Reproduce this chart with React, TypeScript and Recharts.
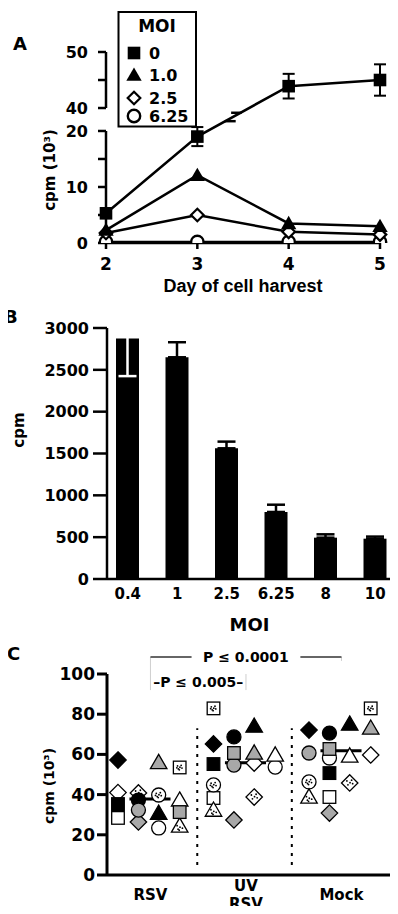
import React from 'react';
import {
  LineChart, Line, XAxis, YAxis, ErrorBar, ReferenceLine, ReferenceArea,
  BarChart, Bar, ScatterChart, Scatter, Label,
} from 'recharts';

const FONT = '"DejaVu Sans", Verdana, sans-serif';
const FONT_ARIAL = '"Liberation Sans", Arial, sans-serif';

/* ---------------- Panel A data ---------------- */
const aDays = [2, 3, 4, 5];
const aMoi0 = [5.3, 19.0, 43.9, 45.0];
const aMoi0Err = [0, 1.7, 2.2, 2.8];
const aMoi1 = [2.3, 12.1, 3.5, 3.0];
const aMoi25 = [1.8, 5.0, 2.0, 1.5];
const aMoi625 = [0.2, 0.2, 0.2, 0.2];
const aYTicks = [0, 5, 10, 15, 20, 40, 45, 50];
const aYTickLabels = ['0', '', '10', '', '20', '40', '', '50'];
const aSeriesNames = ['0', '1.0', '2.5', '6.25'];

/* ---------------- Panel B data ---------------- */
const bMoi = ['0.4', '1', '2.5', '6.25', '8', '10'];
const bCpm = [2875, 2650, 1562, 801, 494, 482];
const bErr = [450, 180, 80, 87, 40, 25];
const bYTicks = [0, 500, 1000, 1500, 2000, 2500, 3000];
const B_TOP = 3000;

/* ---------------- Panel C data ---------------- */
const cGroupLabels = ['RSV', 'UV\nRSV', 'Mock'];
const cYTicks = [0, 20, 40, 60, 80, 100];
// values per donor: [RSV, UV RSV, Mock]
const blackDiamond = [57.2, 65.2, 72.1];
const blackCircle = [37.3, 68.7, 70.6];
const blackSquare = [35.3, 55.2, 50.7];
const blackTriangle = [30.8, 74.1, 75.1];
const grayDiamond = [26.4, 27.4, 30.8];
const grayCircle = [32.3, 54.7, 60.7];
const graySquare = [31.3, 60.7, 62.7];
const grayTriangle = [56.0, 60.7, 73.1];
const whiteDiamond = [41.0, 55.7, 59.7];
const whiteCircle = [23.4, 53.7, 58.2];
const whiteSquare = [28.4, 38.3, 38.8];
const whiteTriangle = [37.3, 59.7, 59.2];
const dottedDiamond = [40.8, 38.8, 45.8];
const dottedCircle = [39.8, 44.8, 46.3];
const dottedSquare = [53.5, 82.9, 82.9];
const dottedTriangle = [24.4, 32.3, 38.8];
const cMedians = [37.8, 55.8, 61.8];

/* ---------------- helpers ---------------- */
type Kind = 'square' | 'triangle' | 'diamond' | 'circle';

const BREAK_LOW = 20;
const BREAK_HIGH = 40;
const BREAK_GAP = 4.1;
const brk = (v: number) => (v >= BREAK_HIGH ? v - BREAK_HIGH + BREAK_LOW + BREAK_GAP : v);

const DOT_OFFSETS = [
  [-3.2, -2.6], [2.2, -3.6], [3.4, 1.0], [-2.0, 2.4], [0.4, -0.4], [-0.6, 4.0], [-4.2, 0.6], [1.6, 3.2],
];

type GlyphProps = { kind: Kind; cx: number; cy: number; r: number; fill: string; stroke: string; sw: number; dotted?: boolean };
function Glyph({ kind, cx, cy, r, fill, stroke, sw, dotted }: GlyphProps) {
  const common = { fill, stroke: sw > 0 ? stroke : 'none', strokeWidth: sw };
  let el: React.ReactNode;
  let dy = 0;
  if (kind === 'circle') el = <circle cx={cx} cy={cy} r={r} {...common} />;
  else if (kind === 'square') el = <rect x={cx - r} y={cy - r} width={2 * r} height={2 * r} {...common} />;
  else if (kind === 'diamond')
    el = <polygon points={`${cx},${cy - r} ${cx + r},${cy} ${cx},${cy + r} ${cx - r},${cy}`} {...common} />;
  else {
    el = (
      <polygon
        points={`${cx},${cy - r * 1.08} ${cx + r * 1.1},${cy + r * 0.82} ${cx - r * 1.1},${cy + r * 0.82}`}
        {...common}
      />
    );
    dy = 1.5;
  }
  const scale = r / 7.5;
  const keep = kind === 'triangle' ? [0, 2, 3, 4, 5] : kind === 'diamond' ? [0, 2, 3, 4, 1] : [0, 1, 2, 3, 4, 5, 6];
  return (
    <g>
      {el}
      {dotted &&
        keep.map((k) => (
          <circle key={k} cx={cx + DOT_OFFSETS[k][0] * scale * 0.8} cy={cy + dy + DOT_OFFSETS[k][1] * scale * 0.7} r={0.9} fill="#000" />
        ))}
    </g>
  );
}

const tickStyle = (size: number) => ({ fill: '#000', fontSize: size, fontWeight: 700, fontFamily: FONT });

/* ---------------- Panel A ---------------- */
const A_GLYPH: Record<Kind, { r: number; fill: string; stroke: string; sw: number }> = {
  square: { r: 6.3, fill: '#000', stroke: '#000', sw: 0 },
  triangle: { r: 7, fill: '#000', stroke: '#000', sw: 0 },
  diamond: { r: 6.3, fill: '#fff', stroke: '#000', sw: 2.2 },
  circle: { r: 6.2, fill: '#fff', stroke: '#000', sw: 2.4 },
};
const A_KINDS: Kind[] = ['square', 'triangle', 'diamond', 'circle'];

const aData = aDays.map((day, i) => ({
  day,
  m0: brk(aMoi0[i]),
  e0: aMoi0Err[i],
  m1: aMoi1[i],
  m25: aMoi25[i],
  m625: aMoi625[i],
}));

const aDot = (kind: Kind) => (p: any) => {
  if (p == null || p.cx == null || p.cy == null) return <g key={`n${kind}${p?.index}`} />;
  return <Glyph key={`${kind}${p.index}`} kind={kind} cx={p.cx} cy={p.cy} {...A_GLYPH[kind]} />;
};

function PanelA() {
  const yTicks = aYTicks.map(brk);
  const top = brk(50);
  const lineProps = { type: 'linear' as const, stroke: '#000', strokeWidth: 2.5, isAnimationActive: false, activeDot: false };
  return (
    <LineChart width={398} height={300} data={aData} margin={{ top: 52, right: 18, bottom: 23, left: 46 }}>
      <XAxis
        type="number" dataKey="day" domain={[2, 5]} ticks={aDays} allowDecimals={false} interval={0}
        axisLine={{ stroke: '#000', strokeWidth: 2.5 }} tickLine={{ stroke: '#000', strokeWidth: 2.5 }}
        tickSize={6} tickMargin={9} height={34} tick={tickStyle(17)}
      >
        <Label value="Day of cell harvest" position="bottom" offset={2}
          style={{ fill: '#000', fontSize: 18, fontWeight: 700, fontFamily: FONT_ARIAL }} />
      </XAxis>
      <YAxis
        type="number" domain={[0, top]} ticks={yTicks} allowDataOverflow width={60} interval={0}
        axisLine={false} tickLine={{ stroke: '#000', strokeWidth: 2.5 }} tickSize={8} tickMargin={10}
        tick={tickStyle(16)} tickFormatter={(_v: any, i: number) => aYTickLabels[i] ?? ''}
      />
      <ReferenceLine segment={[{ x: 2, y: 0 }, { x: 2, y: BREAK_LOW }]} stroke="#000" strokeWidth={2.5} />
      <ReferenceLine segment={[{ x: 2, y: brk(BREAK_HIGH) }, { x: 2, y: top }]} stroke="#000" strokeWidth={2.5} />
      <Line dataKey="m625" name={aSeriesNames[3]} {...lineProps} dot={aDot('circle')} />
      <Line dataKey="m25" name={aSeriesNames[2]} {...lineProps} dot={aDot('diamond')} />
      <Line dataKey="m1" name={aSeriesNames[1]} {...lineProps} dot={aDot('triangle')} />
      <Line dataKey="m0" name={aSeriesNames[0]} {...lineProps} dot={aDot('square')}>
        <ErrorBar dataKey="e0" width={6} stroke="#000" strokeWidth={2} />
      </Line>
      <ReferenceArea x1={3.18} x2={3.7} y1={21.75} y2={23.25} fill="#fff" fillOpacity={1} stroke="none" ifOverflow="hidden" />
      <ReferenceLine segment={[{ x: 3.3, y: 21.75 }, { x: 3.42, y: 21.75 }]} stroke="#000" strokeWidth={2.5} />
      <ReferenceLine segment={[{ x: 3.37, y: 23.25 }, { x: 3.485, y: 23.25 }]} stroke="#000" strokeWidth={2.5} />
    </LineChart>
  );
}

/* ---------------- Panel B ---------------- */
const bData = bMoi.map((moi, i) => ({
  moi,
  cpm: bCpm[i],
  errUp: bCpm[i] + bErr[i] <= B_TOP ? [0, bErr[i]] : undefined,
  errInside: bCpm[i] + bErr[i] > B_TOP ? bErr[i] : undefined,
}));

function PanelB() {
  return (
    <BarChart width={398} height={340} data={bData} margin={{ top: 28, right: 6, bottom: 22, left: 47 }} barSize={23}>
      <XAxis
        dataKey="moi" padding={{ left: -4, right: -8 }} interval={0}
        axisLine={{ stroke: '#000', strokeWidth: 2.5 }} tickLine={false} tickSize={0} tickMargin={9}
        height={39} tick={tickStyle(15)}
      >
        <Label value="MOI" position="bottom" offset={0}
          style={{ fill: '#000', fontSize: 18, fontWeight: 700, fontFamily: FONT }} />
      </XAxis>
      <YAxis
        type="number" domain={[0, B_TOP]} ticks={bYTicks} allowDataOverflow width={60} interval={0}
        axisLine={{ stroke: '#000', strokeWidth: 2.5 }} tickLine={{ stroke: '#000', strokeWidth: 2.5 }}
        tickSize={14} tickMargin={4} tick={tickStyle(16)}
      />
      <Bar dataKey="cpm" fill="#000" isAnimationActive={false}>
        <ErrorBar dataKey="errUp" width={9} stroke="#000" strokeWidth={2.5} />
        <ErrorBar dataKey="errInside" width={9} stroke="#fff" strokeWidth={2.5} />
      </Bar>
    </BarChart>
  );
}

/* ---------------- Panel C ---------------- */
const COL_OFFSET = [-0.34, -0.126, 0.086, 0.306];
const FILLS: Record<string, string> = { black: '#000', gray: '#a8a8a8', white: '#fff', dotted: '#fff' };
type Donor = { name: string; values: number[]; cols: number[]; kind: Kind; tone: string };
const donors: Donor[] = [
  { name: 'whiteDiamond', values: whiteDiamond, cols: [1, 3, 4], kind: 'diamond', tone: 'white' },
  { name: 'whiteCircle', values: whiteCircle, cols: [3, 4, 2], kind: 'circle', tone: 'white' },
  { name: 'whiteSquare', values: whiteSquare, cols: [1, 1, 2], kind: 'square', tone: 'white' },
  { name: 'whiteTriangle', values: whiteTriangle, cols: [4, 4, 3], kind: 'triangle', tone: 'white' },
  { name: 'dottedDiamond', values: dottedDiamond, cols: [2, 3, 3], kind: 'diamond', tone: 'dotted' },
  { name: 'dottedCircle', values: dottedCircle, cols: [3, 1, 1], kind: 'circle', tone: 'dotted' },
  { name: 'dottedSquare', values: dottedSquare, cols: [4, 1, 4], kind: 'square', tone: 'dotted' },
  { name: 'dottedTriangle', values: dottedTriangle, cols: [4, 1, 1], kind: 'triangle', tone: 'dotted' },
  { name: 'blackDiamond', values: blackDiamond, cols: [1, 1, 1], kind: 'diamond', tone: 'black' },
  { name: 'blackCircle', values: blackCircle, cols: [2, 2, 2], kind: 'circle', tone: 'black' },
  { name: 'blackSquare', values: blackSquare, cols: [1, 1, 2], kind: 'square', tone: 'black' },
  { name: 'blackTriangle', values: blackTriangle, cols: [3, 3, 3], kind: 'triangle', tone: 'black' },
  { name: 'grayDiamond', values: grayDiamond, cols: [2, 2, 2], kind: 'diamond', tone: 'gray' },
  { name: 'grayCircle', values: grayCircle, cols: [2, 2, 1], kind: 'circle', tone: 'gray' },
  { name: 'graySquare', values: graySquare, cols: [4, 2, 2], kind: 'square', tone: 'gray' },
  { name: 'grayTriangle', values: grayTriangle, cols: [3, 3, 4], kind: 'triangle', tone: 'gray' },
];
const C_SIZE: Record<Kind, number> = { diamond: 8.2, circle: 7, square: 6.3, triangle: 7.5 };

const CTick = (p: any) => {
  const idx = Math.round(Number(p?.payload?.value ?? 0));
  const lines = (cGroupLabels[idx] ?? '').split('\n');
  const y0 = lines.length === 1 ? p.y + 25 : p.y + 16;
  return (
    <text x={p.x} y={y0} textAnchor="middle" fill="#000" fontSize={15} fontWeight={700} fontFamily={FONT}>
      {lines.map((l, i) => (
        <tspan key={i} x={p.x} dy={i === 0 ? 0 : 18}>{l}</tspan>
      ))}
    </text>
  );
};

const pLabel = (text: string, fontSize: number, gapPad: number) => (props: any) => {
  const vb = props?.viewBox || {};
  const x = (vb.x ?? 0) + (vb.width ?? 0) / 2;
  const y = (vb.y ?? 0) + (vb.height ?? 0) / 2;
  const w = text.length * fontSize * 0.62 + gapPad;
  return (
    <g>
      {gapPad > 0 && <rect x={x - w / 2} y={y - fontSize * 0.6} width={w} height={fontSize * 1.2} fill="#fff" />}
      <text x={x} y={y} dy="0.36em" textAnchor="middle" fill="#000" fontSize={fontSize} fontWeight={700} fontFamily={FONT}>
        {text}
      </text>
    </g>
  );
};

function PanelC() {
  return (
    <ScatterChart width={398} height={274} margin={{ top: 34, right: 8, bottom: 9, left: 47 }}>
      <XAxis
        type="number" dataKey="x" domain={[-0.455, 2.508]} ticks={[0, 1, 2]} interval={0} allowDataOverflow
        axisLine={{ stroke: '#000', strokeWidth: 3 }} tickLine={false} tickSize={0} tickMargin={0}
        height={30} tick={<CTick />}
      />
      <YAxis
        type="number" dataKey="y" domain={[0, 100]} ticks={cYTicks} allowDataOverflow width={60} interval={0}
        axisLine={{ stroke: '#000', strokeWidth: 3 }} tickLine={{ stroke: '#000', strokeWidth: 3 }}
        tickSize={10} tickMargin={2} tick={tickStyle(17)}
      />
      <ReferenceLine segment={[{ x: 0.49, y: 5 }, { x: 0.49, y: 73 }]} stroke="#000" strokeWidth={2} strokeDasharray="3 6" />
      <ReferenceLine segment={[{ x: 1.48, y: 5 }, { x: 1.48, y: 73 }]} stroke="#000" strokeWidth={2} strokeDasharray="3 6" />
      {donors.map((d) => (
        <Scatter
          key={d.name}
          name={d.name}
          isAnimationActive={false}
          data={d.values.map((v, g) => ({ x: g + COL_OFFSET[d.cols[g] - 1], y: v }))}
          shape={(p: any) => (
            <Glyph kind={d.kind} cx={p.cx} cy={p.cy} r={C_SIZE[d.kind]} fill={FILLS[d.tone]} stroke="#000" sw={1.3} dotted={d.tone === 'dotted'} />
          )}
        />
      ))}
      {cMedians.map((m, g) => (
        <ReferenceLine key={`med${g}`} segment={[{ x: g - 0.22, y: m }, { x: g + 0.21, y: m }]} stroke="#000" strokeWidth={3} />
      ))}
      <ReferenceLine segment={[{ x: 0, y: 108.5 }, { x: 0, y: 92 }]} stroke="#cfcfcf" strokeWidth={1} ifOverflow="visible" />
      <ReferenceLine segment={[{ x: 2, y: 108.5 }, { x: 2, y: 106.5 }]} stroke="#cfcfcf" strokeWidth={1} ifOverflow="visible" />
      <ReferenceLine segment={[{ x: 1, y: 100 }, { x: 1, y: 92 }]} stroke="#cfcfcf" strokeWidth={1} ifOverflow="visible" />
      <ReferenceLine
        segment={[{ x: 0, y: 108.5 }, { x: 2, y: 108.5 }]} stroke="#333" strokeWidth={1.5} ifOverflow="visible"
        label={pLabel('P ≤ 0.0001', 14, 22)}
      />
      <ReferenceLine
        segment={[{ x: 0, y: 96 }, { x: 1, y: 96 }]} stroke="none" ifOverflow="visible"
        label={pLabel('–P ≤ 0.005–', 14, 0)}
      />
    </ScatterChart>
  );
}

/* ---------------- overlay: panel letters, axis titles, legend A ---------------- */
function Overlay() {
  const t = { fill: '#000', fontFamily: FONT, fontWeight: 700 } as const;
  const legendRows = [53, 75, 98, 116];
  return (
    <svg width={398} height={914} style={{ position: 'absolute', left: 0, top: 0, pointerEvents: 'none', overflow: 'visible' }}>
      <text x={13} y={50} fontSize={18} {...t}>A</text>
      <text x={4} y={323} fontSize={18} {...t}>B</text>
      <text x={7} y={660} fontSize={18} {...t}>C</text>
      <text transform="translate(50,170) rotate(-90)" textAnchor="middle" dy="0.35em" fontSize={15} {...t}>cpm (10³)</text>
      <text transform="translate(18.5,430) rotate(-90)" textAnchor="middle" dy="0.35em" fontSize={15} {...t}>cpm</text>
      <text transform="translate(49,786) rotate(-90)" textAnchor="middle" dy="0.35em" fontSize={14} {...t}>cpm (10³)</text>
      <g>
        <rect x={118.5} y={12} width={77.5} height={114.5} fill="#fff" stroke="#000" strokeWidth={2} />
        <text x={157} y={32} textAnchor="middle" fontSize={17} {...t}>MOI</text>
        {A_KINDS.map((k, i) => (
          <g key={k}>
            <Glyph kind={k} cx={134} cy={legendRows[i]} {...A_GLYPH[k]} />
            <text x={149} y={legendRows[i] + 6} fontSize={16} {...t}>{aSeriesNames[i]}</text>
          </g>
        ))}
      </g>
    </svg>
  );
}

export default function App() {
  return (
    <div
      style={{
        position: 'relative', marginLeft: -8, marginTop: -8, width: 398, height: 906,
        overflow: 'visible', background: '#fff', fontFamily: FONT,
      }}
    >
      <div style={{ position: 'absolute', left: 0, top: 0 }}><PanelA /></div>
      <div style={{ position: 'absolute', left: 0, top: 300 }}><PanelB /></div>
      <div style={{ position: 'absolute', left: 0, top: 640 }}><PanelC /></div>
      <Overlay />
    </div>
  );
}
